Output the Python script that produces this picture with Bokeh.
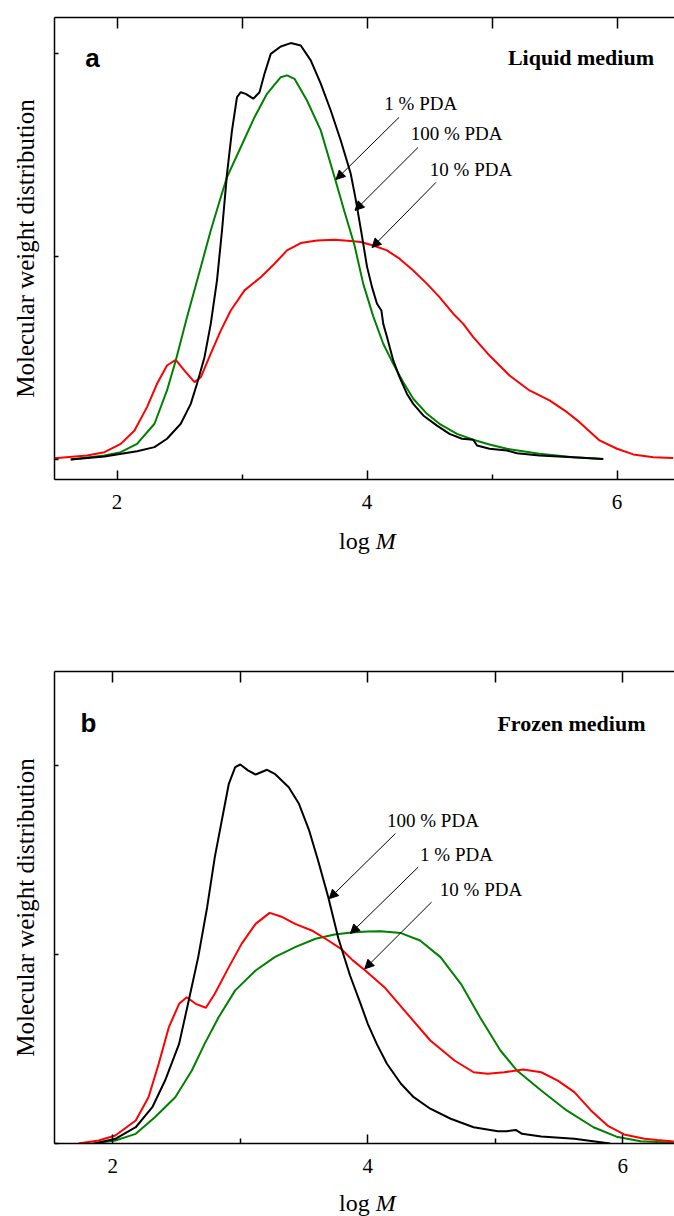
from bokeh.plotting import figure
from bokeh.models import Range1d, LinearAxis, FixedTicker, Label, Arrow, NormalHead, Div
from bokeh.layouts import column
from bokeh.embed import file_html
from bokeh.resources import INLINE

# ---------------- data (log M, relative distribution) ----------------
# Panel a: Liquid medium
liq_100_x = [1.63, 1.90, 2.16, 2.30, 2.40, 2.51, 2.59, 2.64, 2.70, 2.75, 2.80, 2.84, 2.88, 2.92, 2.96,
             2.99, 3.03, 3.09, 3.14, 3.18, 3.23, 3.31, 3.39, 3.47, 3.55, 3.63, 3.71, 3.79, 3.87, 3.91,
             3.96, 4.00, 4.04, 4.08, 4.115, 4.13, 4.16, 4.21, 4.26, 4.32, 4.37, 4.45, 4.56, 4.66, 4.76,
             4.85, 4.88, 4.98, 5.12, 5.20, 5.38, 5.65, 5.89]
liq_100_y = [0.00, 0.015, 0.041, 0.061, 0.102, 0.176, 0.274, 0.373, 0.504, 0.668, 0.882, 1.128, 1.407,
             1.621, 1.785, 1.809, 1.801, 1.777, 1.809, 1.900, 1.998, 2.034, 2.051, 2.039, 1.966, 1.851,
             1.719, 1.571, 1.407, 1.28, 1.10, 0.95, 0.849, 0.767, 0.734, 0.668, 0.603, 0.488, 0.406,
             0.323, 0.274, 0.217, 0.167, 0.126, 0.102, 0.097, 0.069, 0.053, 0.044, 0.031, 0.020, 0.011,
             0.003]
liq_1_x = [1.63, 1.90, 2.03, 2.16, 2.30, 2.40, 2.47, 2.56, 2.67, 2.75, 2.83, 2.88, 2.99, 3.10, 3.20,
           3.31, 3.36, 3.42, 3.52, 3.63, 3.74, 3.82, 3.90, 3.97, 4.05, 4.13, 4.21, 4.29, 4.37, 4.48,
           4.58, 4.72, 4.85, 4.98, 5.12, 5.38, 5.65, 5.89]
liq_1_y = [0.0, 0.020, 0.036, 0.077, 0.176, 0.340, 0.488, 0.701, 0.947, 1.128, 1.292, 1.391, 1.538,
           1.686, 1.801, 1.883, 1.892, 1.875, 1.768, 1.621, 1.391, 1.22, 1.055, 0.865, 0.705, 0.570,
           0.471, 0.381, 0.299, 0.225, 0.176, 0.126, 0.097, 0.074, 0.053, 0.028, 0.011, 0.002]
liq_10_x = [1.50, 1.76, 1.90, 2.03, 2.14, 2.24, 2.32, 2.40, 2.47, 2.54, 2.62, 2.67, 2.75, 2.83, 2.91,
            3.02, 3.15, 3.26, 3.36, 3.47, 3.60, 3.74, 3.87, 3.95, 4.05, 4.16, 4.26, 4.37, 4.48, 4.58,
            4.69, 4.77, 4.85, 4.98, 5.14, 5.30, 5.46, 5.60, 5.70, 5.86, 6.00, 6.13, 6.29, 6.45]
liq_10_y = [0.006, 0.020, 0.036, 0.077, 0.143, 0.258, 0.373, 0.463, 0.491, 0.438, 0.381, 0.405, 0.521,
            0.635, 0.734, 0.833, 0.898, 0.964, 1.030, 1.066, 1.079, 1.082, 1.076, 1.071, 1.054, 1.030,
            0.989, 0.931, 0.865, 0.800, 0.718, 0.668, 0.603, 0.512, 0.414, 0.340, 0.291, 0.233, 0.184,
            0.094, 0.053, 0.025, 0.011, 0.008]

# Panel b: Frozen medium
frz_100_x = [1.86, 2.02, 2.18, 2.31, 2.41, 2.52, 2.59, 2.67, 2.74, 2.80, 2.86, 2.91, 2.96, 3.00, 3.06,
             3.12, 3.21, 3.27, 3.38, 3.46, 3.54, 3.61, 3.69, 3.77, 3.86, 3.94, 4.00, 4.07, 4.15, 4.26,
             4.36, 4.49, 4.65, 4.83, 5.02, 5.09, 5.16, 5.21, 5.36, 5.62, 5.90]
frz_100_y = [0.0, 0.025, 0.086, 0.192, 0.333, 0.527, 0.739, 0.986, 1.250, 1.515, 1.727, 1.903, 1.991,
             2.005, 1.974, 1.952, 1.977, 1.956, 1.885, 1.797, 1.656, 1.497, 1.303, 1.083, 0.890, 0.745,
             0.633, 0.527, 0.422, 0.316, 0.245, 0.184, 0.131, 0.086, 0.065, 0.065, 0.072, 0.051, 0.037,
             0.025, 0.0]
frz_10_x = [1.73, 1.89, 2.02, 2.18, 2.28, 2.36, 2.44, 2.52, 2.58, 2.65, 2.73, 2.80, 2.91, 3.01, 3.12,
            3.23, 3.33, 3.43, 3.56, 3.69, 3.79, 3.88, 3.98, 4.13, 4.31, 4.49, 4.68, 4.83, 4.94, 5.07,
            5.22, 5.36, 5.49, 5.62, 5.75, 5.88, 6.01, 6.17, 6.27, 6.40]
frz_10_y = [0.0, 0.016, 0.042, 0.122, 0.245, 0.422, 0.616, 0.739, 0.774, 0.739, 0.718, 0.792, 0.933,
            1.056, 1.162, 1.220, 1.198, 1.162, 1.127, 1.074, 1.030, 0.97, 0.915, 0.827, 0.686, 0.545,
            0.439, 0.377, 0.369, 0.377, 0.392, 0.377, 0.333, 0.272, 0.175, 0.095, 0.048, 0.025, 0.018,
            0.011]
frz_1_x = [1.84, 2.02, 2.18, 2.33, 2.49, 2.62, 2.72, 2.83, 2.96, 3.12, 3.27, 3.43, 3.59, 3.74, 3.87,
           4.00, 4.10, 4.26, 4.41, 4.57, 4.73, 4.88, 5.04, 5.17, 5.36, 5.56, 5.77, 5.96, 6.14, 6.40]
frz_1_y = [0.0, 0.016, 0.051, 0.139, 0.245, 0.386, 0.527, 0.668, 0.810, 0.915, 0.986, 1.039, 1.083,
           1.106, 1.116, 1.122, 1.123, 1.113, 1.074, 0.986, 0.845, 0.668, 0.492, 0.386, 0.280, 0.175,
           0.086, 0.034, 0.012, 0.004]

x_major_ticks = [2, 4, 6]
x_minor_ticks = [3, 5]
x_top_ticks = [2, 3, 4, 5, 6]
y_ticks = [0, 1, 2]

series_names = ["1 % PDA", "10 % PDA", "100 % PDA"]
panel_letters = ["a", "b"]
panel_titles = ["Liquid medium", "Frozen medium"]
y_title = "Molecular weight distribution"
x_title_html = "log <i>M</i>"

# ---------------- styling ----------------
SERIF = "Liberation Serif"
SANS = "Liberation Sans"
RED = "#ff0000"
GREEN = "#008000"
BLACK = "#000000"


def make_panel(width, height, xr, yr, bl, bt, bb, label_standoff):
    p = figure(width=width, height=height, x_range=Range1d(*xr), y_range=Range1d(*yr),
               output_backend="svg", toolbar_location=None,
               x_axis_location=None, y_axis_location=None,
               min_border_left=bl, min_border_right=0, min_border_top=bt, min_border_bottom=bb)
    p.outline_line_color = None
    p.xgrid.visible = False
    p.ygrid.visible = False
    p.background_fill_color = "white"
    p.border_fill_color = "white"

    xb = LinearAxis(ticker=FixedTicker(ticks=x_major_ticks, minor_ticks=x_minor_ticks))
    xb.major_tick_in = 9
    xb.major_tick_out = 0
    xb.minor_tick_in = 5
    xb.minor_tick_out = 0
    xb.axis_line_width = 1.5
    xb.major_tick_line_width = 1.5
    xb.minor_tick_line_width = 1.5
    xb.major_label_text_font = SERIF
    xb.major_label_text_font_size = "21px"
    xb.major_label_text_color = BLACK
    xb.major_label_standoff = 15
    p.add_layout(xb, "below")

    xt = LinearAxis(ticker=FixedTicker(ticks=x_top_ticks))
    xt.major_tick_in = 11
    xt.major_tick_out = 0
    xt.minor_tick_in = 0
    xt.minor_tick_out = 0
    xt.axis_line_width = 1.5
    xt.major_tick_line_width = 1.5
    xt.major_label_text_font_size = "1px"
    xt.major_label_text_color = None
    xt.major_label_standoff = 0
    p.add_layout(xt, "above")

    yl = LinearAxis(ticker=FixedTicker(ticks=y_ticks))
    yl.major_tick_in = 4
    yl.major_tick_out = 0
    yl.minor_tick_in = 0
    yl.minor_tick_out = 0
    yl.axis_line_width = 1.5
    yl.major_tick_line_width = 1.5
    yl.major_label_text_font_size = "1px"
    yl.major_label_text_color = None
    yl.major_label_standoff = 0
    yl.axis_label = y_title
    yl.axis_label_text_font = SERIF
    yl.axis_label_text_font_size = "25px"
    yl.axis_label_text_font_style = "normal"
    yl.axis_label_text_color = BLACK
    yl.axis_label_standoff = label_standoff
    p.add_layout(yl, "left")
    return p


def add_text(p, x, y, text, size, font=SERIF, style="normal", align="center"):
    p.add_layout(Label(x=x, y=y, text=text, text_font=font, text_font_size=size,
                       text_font_style=style, text_align=align, text_baseline="middle",
                       text_color=BLACK))


def add_arrow(p, xs, ys, xe, ye):
    p.add_layout(Arrow(end=NormalHead(size=9, fill_color=BLACK, line_color=BLACK, line_width=1),
                       x_start=xs, y_start=ys, x_end=xe, y_end=ye,
                       line_color=BLACK, line_width=1))


def x_title(height, pad_top, line_height, pad_left):
    html = ('<div style="font-family:\'Liberation Serif\'; font-size:24px; color:#000; '
            'white-space:nowrap; padding-top:%dpx; line-height:%dpx; padding-left:%dpx;">%s</div>'
            % (pad_top, line_height, pad_left, x_title_html))
    return Div(text=html, width=674, height=height, margin=0)


# ---------------- panel a ----------------
pa = make_panel(674, 526, (1.5, 1.5 + 620 / 125), (-0.0985, 2.177), 54, 17, 47, 16)
pa.line(liq_10_x, liq_10_y, line_color=RED, line_width=2)
pa.line(liq_1_x, liq_1_y, line_color=GREEN, line_width=2)
pa.line(liq_100_x, liq_100_y, line_color=BLACK, line_width=2)

add_text(pa, 1.804, 1.978, panel_letters[0], "26px", font=SANS, style="bold")
add_text(pa, 6.296, 1.978, panel_titles[0], "22px", style="bold", align="right")
add_text(pa, 4.43, 1.754, series_names[0], "19px")
add_text(pa, 4.717, 1.606, series_names[2], "19px")
add_text(pa, 4.832, 1.429, series_names[1], "19px")
add_arrow(pa, 4.256, 1.685, 3.752, 1.379)
add_arrow(pa, 4.408, 1.537, 3.904, 1.227)
add_arrow(pa, 4.552, 1.365, 4.04, 1.044)

div_a = x_title(30, 0, 30, 339)

# ---------------- panel b ----------------
xb0 = 2 - (112.3 - 54) / 127.5
pb = make_panel(674, 627, (xb0, xb0 + 620 / 127.5), (0.0, 2.497), 54, 115, 40, 16)
pb.line(frz_1_x, frz_1_y, line_color=GREEN, line_width=2)
pb.line(frz_10_x, frz_10_y, line_color=RED, line_width=2)
pb.line(frz_100_x, frz_100_y, line_color=BLACK, line_width=2)

add_text(pb, 1.809, 2.222, panel_letters[1], "26px", font=SANS, style="bold")
add_text(pb, 6.178, 2.222, panel_titles[1], "22px", style="bold", align="right")
add_text(pb, 4.511, 1.709, series_names[2], "19px")
add_text(pb, 4.696, 1.529, series_names[0], "19px")
add_text(pb, 4.888, 1.344, series_names[1], "19px")
add_arrow(pb, 4.217, 1.640, 3.697, 1.295)
add_arrow(pb, 4.395, 1.462, 3.864, 1.111)
add_arrow(pb, 4.500, 1.277, 3.976, 0.924)

div_b = x_title(33, 9, 22, 339)

layout = column(pa, div_a, pb, div_b, spacing=0)
open("out.html", "w").write(file_html(layout, INLINE))
